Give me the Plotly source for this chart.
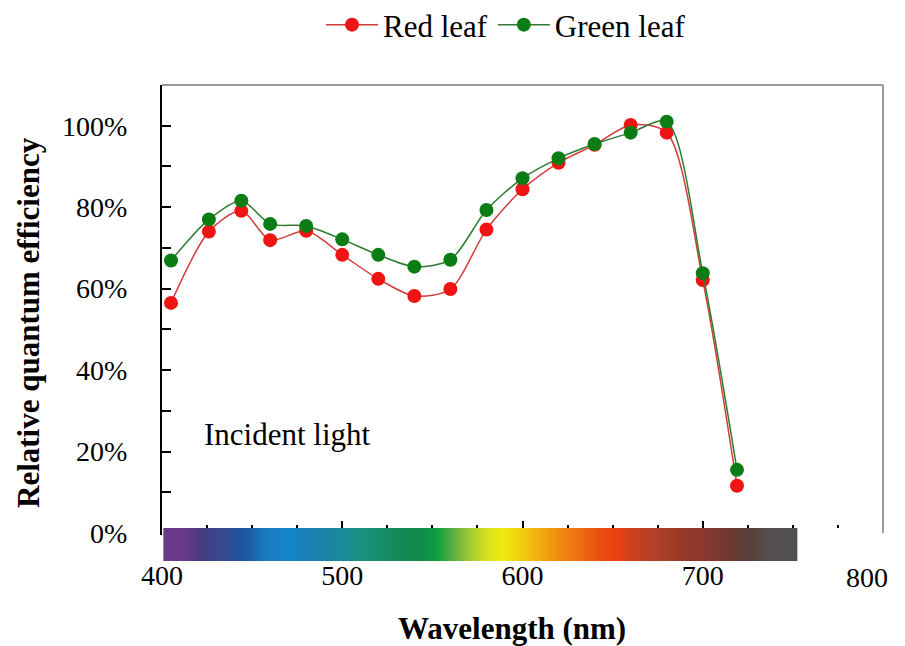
import numpy as np
import plotly.graph_objects as go

# ---------------- data ----------------
wavelength_nm = [405, 426, 444, 460, 480, 500, 520, 540, 560, 580, 600, 620, 640, 660, 680, 700, 719]
red_leaf = [56.5, 74.0, 79.1, 71.9, 74.2, 68.3, 62.4, 58.2, 59.9, 74.5, 84.4, 90.9, 95.3, 100.2, 98.3, 62.1, 11.6]
green_leaf = [66.9, 77.0, 81.6, 75.9, 75.4, 72.1, 68.3, 65.4, 67.1, 79.3, 87.1, 92.0, 95.5, 98.3, 101.0, 63.8, 15.5]

x_tick_vals = [400, 500, 600, 700, 800]
x_tick_text = ["400", "500", "600", "700", ""]
x_last_label = "800"
y_tick_vals = [0, 20, 40, 60, 80, 100]
y_tick_text = ["0%", "20%", "40%", "60%", "80%", "100%"]

# incident-light spectrum bar (colour stops)
spectrum_nm = [401, 414, 420, 433, 446, 458, 470, 485, 500, 514, 529, 544, 553, 562, 573, 580, 589, 600,
               613, 630, 643, 652, 663, 674, 687, 702, 713, 724, 737, 752]
spectrum_colors = ["#6a3b8a", "#663a88", "#4a3a80", "#3a4a90", "#1b55a0", "#1a7cc0", "#1485c8", "#1a80b0",
                   "#1a8a98", "#18907a", "#138a58", "#0e8a48", "#10a040", "#60b040", "#b0d030", "#d8e020",
                   "#f0ea10", "#f0cc10", "#f0a010", "#f07010", "#e85010", "#e84010", "#c84020", "#b04028",
                   "#983a28", "#883830", "#703830", "#5a3e38", "#555050", "#505050"]

FONT = "Liberation Serif, Times New Roman, serif"

# the page body adds an 8px margin; size the figure so it lands on the 905x646 window
OFF = 8
W, H = 905 - OFF, 646 - OFF
PLOT_L, PLOT_R, PLOT_T, PLOT_B = 162, 883, 85, 561   # page pixels (plot area incl. bar)
ML, MT = PLOT_L - OFF, PLOT_T - OFF
MR, MB = W - (PLOT_R - OFF), H - (PLOT_B - OFF)
PW, PH = PLOT_R - PLOT_L, PLOT_B - PLOT_T


def px_x(x):
    return (x - PLOT_L) / PW


def px_y(y):
    return (PLOT_B - y) / PH


axis_bottom_px = 533
bar_top_px = 528

fig = go.Figure()

fig.add_trace(go.Scatter(
    x=wavelength_nm, y=red_leaf, name="Red leaf", mode="lines+markers",
    line=dict(color="#d23c3c", width=1.5, shape="spline", smoothing=0.8),
    marker=dict(color="#f01414", size=14),
    xaxis="x", yaxis="y",
))
fig.add_trace(go.Scatter(
    x=wavelength_nm, y=green_leaf, name="Green leaf", mode="lines+markers",
    line=dict(color="#2f7a2f", width=1.5, shape="spline", smoothing=0.8),
    marker=dict(color="#0b7d14", size=14),
    xaxis="x", yaxis="y",
))

# spectrum bar as heatmap
cells = np.arange(spectrum_nm[0], spectrum_nm[-1] + 0.25, 0.5)
lo, hi = spectrum_nm[0], spectrum_nm[-1]
cscale = [[(s - lo) / (hi - lo), c] for s, c in zip(spectrum_nm, spectrum_colors)]
fig.add_trace(go.Heatmap(
    x=cells, y=[0], z=[cells], colorscale=cscale, zmin=lo, zmax=hi,
    showscale=False, hoverinfo="skip", xaxis="x2", yaxis="y2", showlegend=False,
))

fig.update_layout(
    width=W, height=H,
    margin=dict(l=ML, r=MR, t=MT, b=MB, pad=0, autoexpand=False),
    paper_bgcolor="white", plot_bgcolor="white",
    font=dict(family=FONT, color="black"),
    showlegend=True,
    legend=dict(
        orientation="h", x=px_x(506), y=px_y(25), xanchor="center", yanchor="middle",
        font=dict(size=31, family=FONT), bgcolor="rgba(0,0,0,0)", itemsizing="trace",
        itemwidth=52, borderwidth=0,
    ),
    xaxis=dict(
        domain=[0, 1], anchor="y", range=[400, 800],
        tickvals=x_tick_vals, ticktext=x_tick_text, ticks="inside", ticklen=12, tickwidth=1.5,
        tickcolor="black",
        minor=dict(dtick=25, tick0=400, ticks="inside", ticklen=8, tickwidth=1.5, tickcolor="black"),
        showline=True, linecolor="black", linewidth=2, showgrid=False, zeroline=False,
        tickfont=dict(size=28, family=FONT), ticklabelstandoff=16,
    ),
    yaxis=dict(
        domain=[px_y(axis_bottom_px), 1], anchor="x", range=[0, 110],
        tickvals=y_tick_vals, ticktext=y_tick_text, ticks="inside", ticklen=9, tickwidth=1.5,
        tickcolor="black",
        minor=dict(dtick=10, tick0=0, ticks="inside", ticklen=9, tickwidth=1.5, tickcolor="black"),
        showline=True, linecolor="black", linewidth=2, showgrid=False, zeroline=False,
        tickfont=dict(size=28, family=FONT), ticklabelstandoff=27,
    ),
    xaxis2=dict(domain=[0, 1], anchor="y2", range=[400, 800], visible=False),
    yaxis2=dict(domain=[0, px_y(bar_top_px)], anchor="x2", range=[-0.5, 0.5], visible=False),
    annotations=[
        dict(text="<b>Relative quantum efficiency</b>", textangle=-90, xref="paper", yref="paper",
             x=px_x(28), y=px_y(323), xanchor="center", yanchor="middle", showarrow=False,
             font=dict(size=31, family=FONT)),
        dict(text="<b>Wavelength (nm)</b>", xref="paper", yref="paper",
             x=px_x(512), y=px_y(628), xanchor="center", yanchor="middle", showarrow=False,
             font=dict(size=31, family=FONT)),
        dict(text="Incident light", xref="x", yref="y", x=422.4, y=24.3,
             xanchor="left", yanchor="middle", showarrow=False, font=dict(size=31, family=FONT)),
        dict(text=x_last_label, xref="x", yref="paper", x=x_tick_vals[-1], y=px_y(577),
             xshift=-16, xanchor="center", yanchor="middle", showarrow=False,
             font=dict(size=28, family=FONT)),
    ],
    shapes=[
        dict(type="line", xref="paper", yref="y domain", x0=1, x1=1, y0=0, y1=1,
             line=dict(color="#999999", width=2)),
        dict(type="line", xref="paper", yref="y domain", x0=0, x1=1, y0=1, y1=1,
             line=dict(color="#999999", width=2)),
    ],
)

fig.write_html("out.html")
